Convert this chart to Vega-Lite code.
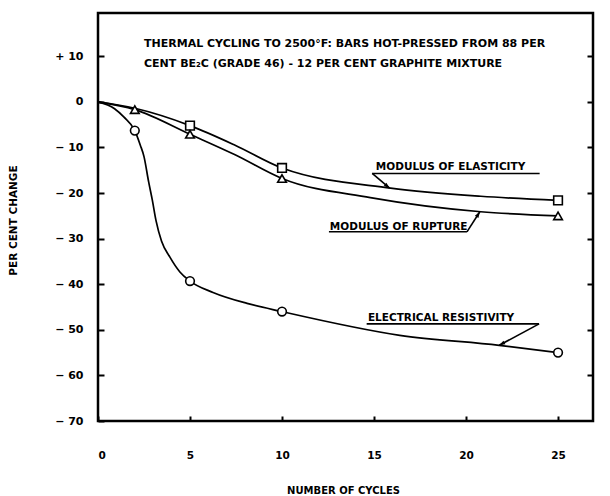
{
  "$schema": "https://vega.github.io/schema/vega-lite/v6.json",
  "width": 495,
  "height": 408,
  "autosize": {"type": "none"},
  "padding": {"left": 98, "top": 13, "right": 17, "bottom": 75},
  "background": "white",
  "config": {
    "view": {"stroke": "black", "strokeWidth": 2.5},
    "font": "DejaVu Sans",
    "axis": {
      "domain": false,
      "grid": false,
      "tickColor": "black",
      "tickWidth": 2,
      "labelColor": "black",
      "titleColor": "black",
      "labelFont": "DejaVu Sans",
      "labelFontWeight": "bold",
      "titleFont": "DejaVu Sans",
      "titleFontWeight": "bold"
    }
  },
  "datasets": {
    "curves": [
      {"series": "elasticity", "cycles": 0, "change": 0},
      {"series": "elasticity", "cycles": 2, "change": -1.4},
      {"series": "elasticity", "cycles": 5, "change": -5.2},
      {"series": "elasticity", "cycles": 7.45, "change": -9.5},
      {"series": "elasticity", "cycles": 10, "change": -14.5},
      {"series": "elasticity", "cycles": 15.9, "change": -18.9},
      {"series": "elasticity", "cycles": 20.8, "change": -20.7},
      {"series": "elasticity", "cycles": 25, "change": -21.6},
      {"series": "rupture", "cycles": 0, "change": 0},
      {"series": "rupture", "cycles": 2, "change": -1.7},
      {"series": "rupture", "cycles": 5, "change": -7.1},
      {"series": "rupture", "cycles": 7.45, "change": -11.6},
      {"series": "rupture", "cycles": 10, "change": -16.8},
      {"series": "rupture", "cycles": 14.8, "change": -21},
      {"series": "rupture", "cycles": 20.8, "change": -24.1},
      {"series": "rupture", "cycles": 25, "change": -25},
      {"series": "resistivity", "cycles": 0, "change": 0},
      {"series": "resistivity", "cycles": 0.9, "change": -1.5},
      {"series": "resistivity", "cycles": 1.4, "change": -3.3},
      {"series": "resistivity", "cycles": 2, "change": -6.3},
      {"series": "resistivity", "cycles": 2.3, "change": -9.5},
      {"series": "resistivity", "cycles": 2.5, "change": -12},
      {"series": "resistivity", "cycles": 2.75, "change": -17.5},
      {"series": "resistivity", "cycles": 2.95, "change": -21.5},
      {"series": "resistivity", "cycles": 3.15, "change": -26},
      {"series": "resistivity", "cycles": 3.45, "change": -30.5},
      {"series": "resistivity", "cycles": 3.9, "change": -34},
      {"series": "resistivity", "cycles": 4.45, "change": -37.3},
      {"series": "resistivity", "cycles": 5, "change": -39.3},
      {"series": "resistivity", "cycles": 6.25, "change": -41.8},
      {"series": "resistivity", "cycles": 8.1, "change": -44.2},
      {"series": "resistivity", "cycles": 10, "change": -46},
      {"series": "resistivity", "cycles": 16.4, "change": -51.2},
      {"series": "resistivity", "cycles": 21.8, "change": -53.4},
      {"series": "resistivity", "cycles": 25, "change": -55}
    ],
    "markers": [
      {"series": "elasticity", "cycles": 5, "change": -5.2},
      {"series": "elasticity", "cycles": 10, "change": -14.5},
      {"series": "elasticity", "cycles": 25, "change": -21.6},
      {"series": "rupture", "cycles": 2, "change": -1.7},
      {"series": "rupture", "cycles": 5, "change": -7.1},
      {"series": "rupture", "cycles": 10, "change": -16.8},
      {"series": "rupture", "cycles": 25, "change": -25},
      {"series": "resistivity", "cycles": 2, "change": -6.3},
      {"series": "resistivity", "cycles": 5, "change": -39.3},
      {"series": "resistivity", "cycles": 10, "change": -46},
      {"series": "resistivity", "cycles": 25, "change": -55}
    ],
    "heading": [
      {"note": "THERMAL CYCLING TO 2500°F: BARS HOT-PRESSED FROM 88 PER", "cycles": 2.5, "change": 12.7},
      {"note": "CENT BE₂C (GRADE 46) - 12 PER CENT GRAPHITE MIXTURE", "cycles": 2.5, "change": 8.3}
    ],
    "labels": [
      {"note": "MODULUS OF ELASTICITY", "cycles": 15.1, "change": -14.3},
      {"note": "MODULUS OF RUPTURE", "cycles": 12.6, "change": -27.4},
      {"note": "ELECTRICAL RESISTIVITY", "cycles": 14.67, "change": -47.5}
    ],
    "leaders": [
      {"series": "elasticity", "cycles": 14.9, "change": -15.7, "cycles_end": 24.0, "change_end": -15.7},
      {"series": "elasticity", "cycles": 14.9, "change": -15.7, "cycles_end": 15.85, "change_end": -18.9},
      {"series": "rupture", "cycles": 12.55, "change": -28.5, "cycles_end": 20.05, "change_end": -28.5},
      {"series": "rupture", "cycles": 20.05, "change": -28.5, "cycles_end": 20.75, "change_end": -24.1},
      {"series": "resistivity", "cycles": 14.6, "change": -48.7, "cycles_end": 23.97, "change_end": -48.7},
      {"series": "resistivity", "cycles": 23.97, "change": -48.7, "cycles_end": 21.8, "change_end": -53.4}
    ],
    "tips": [
      {"series": "elasticity", "cycles": 15.85, "change": -18.9},
      {"series": "rupture", "cycles": 20.75, "change": -24.1},
      {"series": "resistivity", "cycles": 21.8, "change": -53.4}
    ]
  },
  "layer": [
    {
      "data": {"name": "curves"},
      "mark": {"type": "line", "interpolate": "monotone", "color": "black", "strokeWidth": 1.7},
      "encoding": {
        "x": {
          "field": "cycles",
          "type": "quantitative",
          "scale": {"domain": [0, 26.9], "nice": false, "zero": false},
          "axis": {
            "orient": "bottom",
            "values": [0, 5, 10, 15, 20, 25],
            "tickSize": -5,
            "labelPadding": 34,
            "labelFontSize": 10.5,
            "title": "NUMBER OF CYCLES",
            "titleFontSize": 10,
            "titleX": 245,
            "titleY": 69,
            "titleBaseline": "middle",
            "titleAlign": "center"
          }
        },
        "y": {
          "field": "change",
          "type": "quantitative",
          "scale": {"domain": [-70, 19.5], "nice": false, "zero": false},
          "axis": {
            "orient": "left",
            "values": [10, 0, -10, -20, -30, -40, -50, -60, -70],
            "tickSize": -6,
            "labelPadding": 21,
            "labelFontSize": 11,
            "labelExpr": "datum.value > 0 ? '+ ' + datum.value : (datum.value < 0 ? '− ' + abs(datum.value) : '0')",
            "title": "PER CENT CHANGE",
            "titleFontSize": 10.5,
            "titleAngle": 270,
            "titleX": -85,
            "titleY": 207,
            "titleBaseline": "middle",
            "titleAlign": "center"
          }
        },
        "detail": {"field": "series", "type": "nominal"}
      }
    },
    {
      "mark": {"type": "rule", "color": "black", "strokeWidth": 2, "strokeDash": [30, 15], "strokeDashOffset": 18},
      "encoding": {"y": {"datum": 0, "type": "quantitative", "axis": null}}
    },
    {
      "data": {"name": "markers"},
      "mark": {"type": "point", "filled": false, "fill": "white", "fillOpacity": 1, "stroke": "black", "strokeWidth": 1.6, "size": 75, "opacity": 1},
      "encoding": {
        "x": {"field": "cycles", "type": "quantitative"},
        "y": {
          "field": "change",
          "type": "quantitative",
          "axis": {
            "orient": "right",
            "values": [10, 0, -10, -20, -30, -40, -50, -60],
            "tickSize": -6,
            "labels": false,
            "title": null
          }
        },
        "shape": {
          "field": "series",
          "type": "nominal",
          "scale": {"domain": ["elasticity", "rupture", "resistivity"], "range": ["square", "triangle-up", "circle"]},
          "legend": null
        }
      }
    },
    {
      "data": {"name": "leaders"},
      "mark": {"type": "rule", "color": "black", "strokeWidth": 1.6},
      "encoding": {
        "x": {"field": "cycles", "type": "quantitative"},
        "y": {"field": "change", "type": "quantitative", "axis": null},
        "x2": {"field": "cycles_end"},
        "y2": {"field": "change_end"}
      }
    },
    {
      "data": {"name": "tips"},
      "transform": [{"filter": "datum.series === 'elasticity'"}],
      "mark": {"type": "point", "shape": "M0,0L0.35,1L-0.35,1Z", "filled": true, "color": "black", "opacity": 1, "size": 144, "angle": 129},
      "encoding": {
        "x": {"field": "cycles", "type": "quantitative"},
        "y": {"field": "change", "type": "quantitative", "axis": null}
      }
    },
    {
      "data": {"name": "tips"},
      "transform": [{"filter": "datum.series === 'rupture'"}],
      "mark": {"type": "point", "shape": "M0,0L0.35,1L-0.35,1Z", "filled": true, "color": "black", "opacity": 1, "size": 144, "angle": 32},
      "encoding": {
        "x": {"field": "cycles", "type": "quantitative"},
        "y": {"field": "change", "type": "quantitative", "axis": null}
      }
    },
    {
      "data": {"name": "tips"},
      "transform": [{"filter": "datum.series === 'resistivity'"}],
      "mark": {"type": "point", "shape": "M0,0L0.35,1L-0.35,1Z", "filled": true, "color": "black", "opacity": 1, "size": 144, "angle": 242},
      "encoding": {
        "x": {"field": "cycles", "type": "quantitative"},
        "y": {"field": "change", "type": "quantitative", "axis": null}
      }
    },
    {
      "data": {"name": "heading"},
      "mark": {"type": "text", "align": "left", "baseline": "middle", "font": "DejaVu Sans", "fontWeight": "bold", "fontSize": 11, "color": "black"},
      "encoding": {
        "x": {"field": "cycles", "type": "quantitative"},
        "y": {"field": "change", "type": "quantitative", "axis": null},
        "text": {"field": "note", "type": "nominal"}
      }
    },
    {
      "data": {"name": "labels"},
      "mark": {"type": "text", "align": "left", "baseline": "middle", "font": "DejaVu Sans", "fontWeight": "bold", "fontSize": 10.5, "color": "black"},
      "encoding": {
        "x": {"field": "cycles", "type": "quantitative"},
        "y": {"field": "change", "type": "quantitative", "axis": null},
        "text": {"field": "note", "type": "nominal"}
      }
    }
  ],
  "resolve": {"axis": {"y": "independent"}}
}
